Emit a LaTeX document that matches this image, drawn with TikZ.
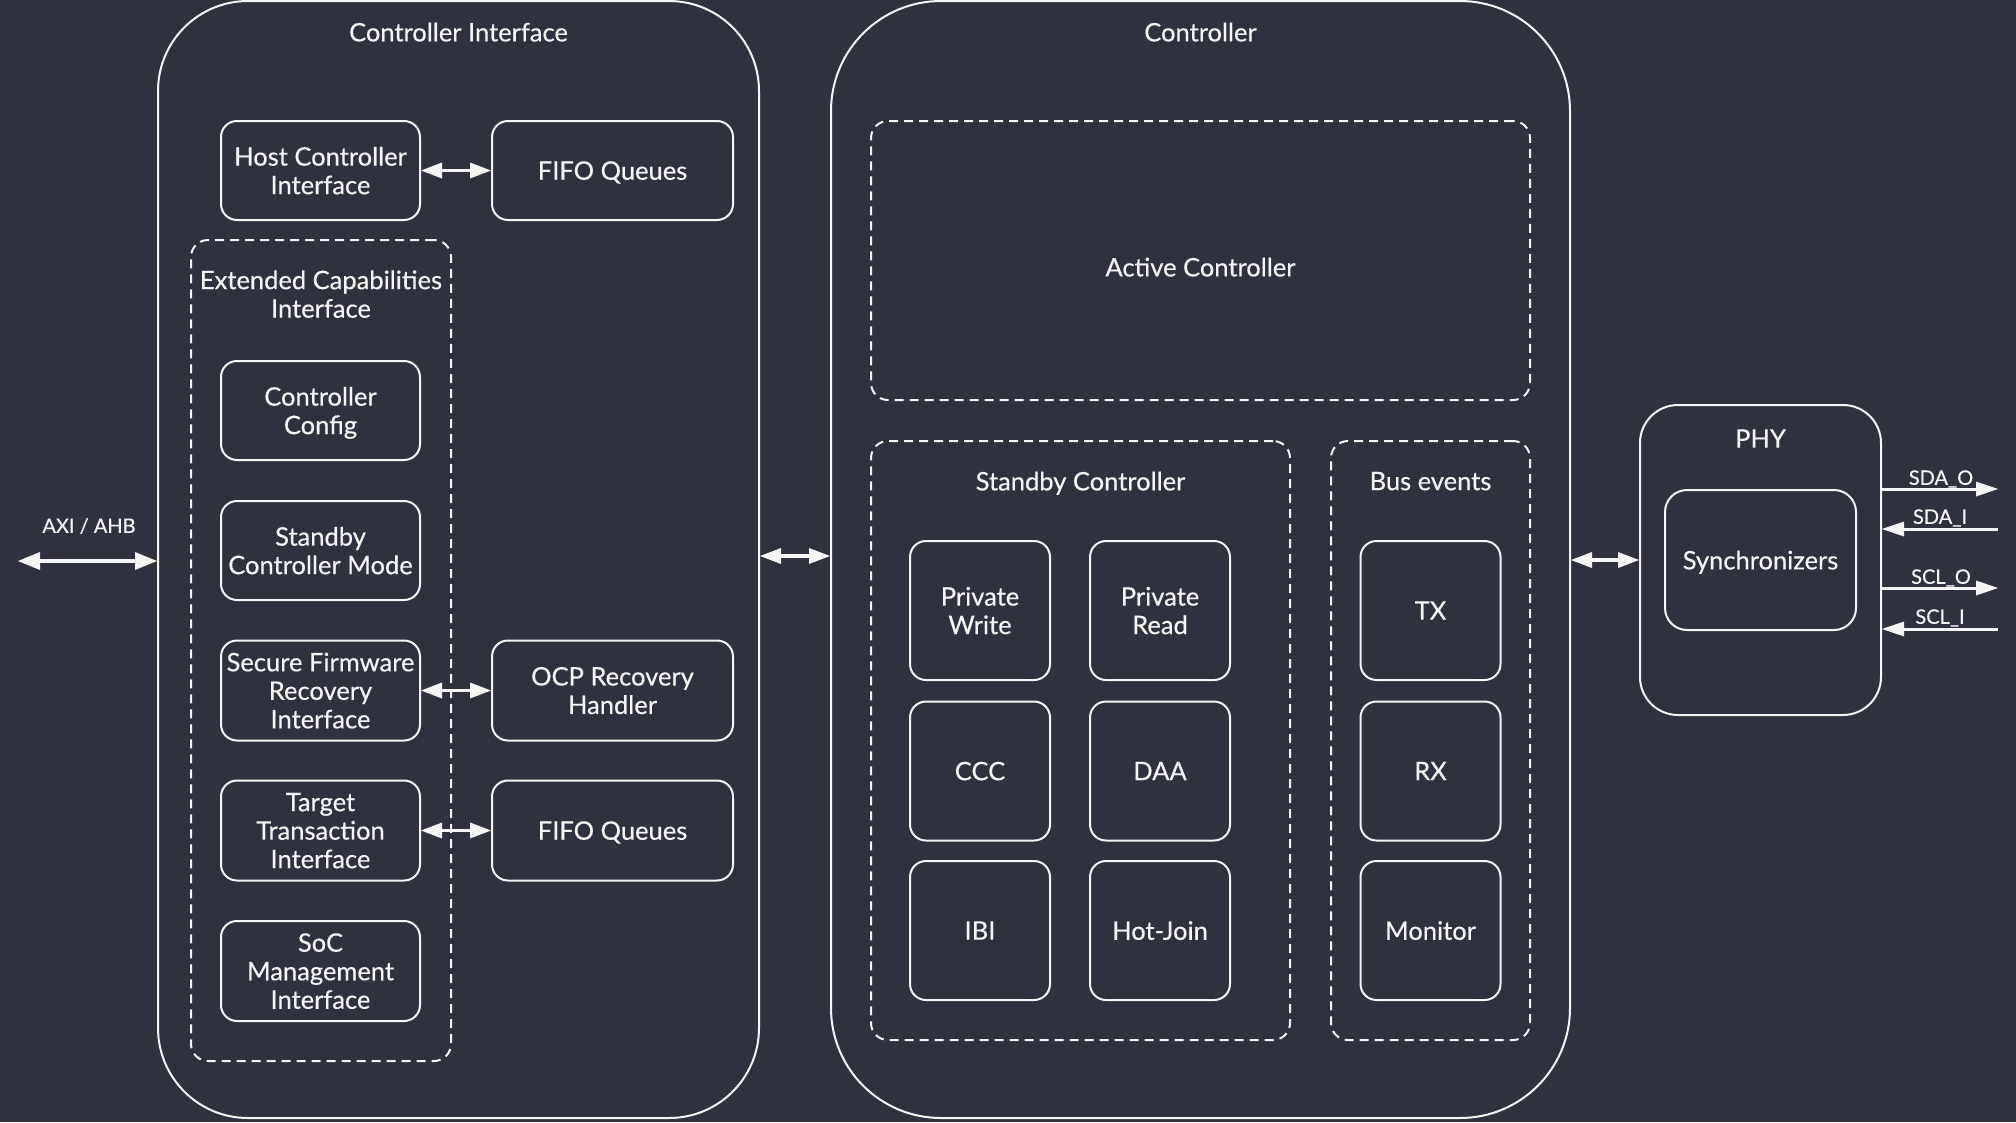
\documentclass[tikz,border=0pt]{standalone}
\usepackage{fontspec}
\setmainfont{Lato}[FakeBold=0.4]
\usetikzlibrary{arrows.meta}
\definecolor{bg}{RGB}{47,49,62}
\definecolor{fg}{RGB}{245,245,245}
\tikzset{
  txt/.style={text=fg, font=\fontsize{25.5}{28.5}\selectfont, align=center, inner sep=0pt, text depth=-5pt},
  small/.style={text=fg, font=\fontsize{20}{22}\selectfont, inner sep=0pt},
  outer/.style={draw=fg, line width=2pt, rectangle, inner sep=0pt},
  sbox/.style={draw=fg, line width=2pt, rectangle, rounded corners=16pt, inner sep=0pt, txt},
  dbox/.style={draw=fg, line width=2pt, rectangle, rounded corners=17pt, inner sep=0pt, dash pattern=on 9pt off 6pt},
  biarrow/.style={draw=fg, line width=3.5pt, {Triangle[length=21pt,width=16pt,line width=0pt]}-{Triangle[length=21pt,width=16pt,line width=0pt]}},
  bigarrow/.style={draw=fg, line width=4pt, {Triangle[length=22pt,width=18pt,line width=0pt]}-{Triangle[length=22pt,width=18pt,line width=0pt]}},
  sarrow/.style={draw=fg, line width=3pt, -{Triangle[length=22pt,width=15pt,line width=0pt]}},
}
\begin{document}
\begin{tikzpicture}[x=1pt,y=-1pt]
\fill[bg] (0,0) rectangle (2016,1122);
\useasboundingbox (0,0) rectangle (2016,1122);

% outer containers
\node[outer, rounded corners=90pt, minimum width=601, minimum height=1117] (ci) at (458.5,559.5) {};
\node[outer, rounded corners=110pt, minimum width=739, minimum height=1117] (ctrl) at (1200.5,559.5) {};
\node[outer, rounded corners=38pt, minimum width=241, minimum height=310] (phy) at (1760.5,560) {};

\node[txt] (ci-title) at (458.5,32) {Controller Interface};
\node[txt] (ctrl-title) at (1200.5,32) {Controller};
\node[txt] (phy-title) at (1760.5,438.5) {PHY};

% Controller Interface contents
\node[dbox, minimum width=260, minimum height=821] (ext) at (321,650.5) {};
\node[txt] (ext-title) at (321,294) {Extended Capabilities\\Interface};

\node[sbox, minimum width=199, minimum height=99] (hci) at (320.5,170.5) {Host Controller\\Interface};
\node[sbox, minimum width=241, minimum height=99] (fifo1) at (612.5,170.5) {FIFO Queues};
\node[sbox, minimum width=199, minimum height=99] (cc) at (320.5,410.5) {Controller\\Config};
\node[sbox, minimum width=199, minimum height=99] (scm) at (320.5,550.5) {Standby\\Controller Mode};
\node[sbox, minimum width=199, minimum height=100] (sfri) at (320.5,690.5) {Secure Firmware\\Recovery\\Interface};
\node[sbox, minimum width=241, minimum height=100] (ocp) at (612.5,690.5) {OCP Recovery\\Handler};
\node[sbox, minimum width=199, minimum height=100] (tti) at (320.5,830.5) {Target\\Transaction\\Interface};
\node[sbox, minimum width=241, minimum height=100] (fifo2) at (612.5,830.5) {FIFO Queues};
\node[sbox, minimum width=199, minimum height=100] (soc) at (320.5,971) {SoC\\Management\\Interface};

\draw[biarrow] (hci.east) -- (fifo1.west);
\draw[biarrow] (sfri.east) -- (ocp.west);
\draw[biarrow] (tti.east) -- (fifo2.west);

% Controller contents
\node[dbox, minimum width=659, minimum height=279] (active) at (1200.5,260.5) {};
\node[txt] (active-title) at (1200.5,267) {Active Controller};
\node[dbox, minimum width=419, minimum height=599] (standby) at (1080.5,740.5) {};
\node[txt] (standby-title) at (1080.5,481) {Standby Controller};
\node[dbox, minimum width=199, minimum height=599] (bus) at (1430.5,740.5) {};
\node[txt] (bus-title) at (1430.5,481) {Bus events};

\node[sbox, minimum width=140, minimum height=139] (pw) at (980,610.5) {Private\\Write};
\node[sbox, minimum width=140, minimum height=139] (pr) at (1160,610.5) {Private\\Read};
\node[sbox, minimum width=140, minimum height=139] (ccc) at (980,771) {CCC};
\node[sbox, minimum width=140, minimum height=139] (daa) at (1160,771) {DAA};
\node[sbox, minimum width=140, minimum height=139] (ibi) at (980,930.5) {IBI};
\node[sbox, minimum width=140, minimum height=139] (hj) at (1160,930.5) {Hot-Join};
\node[sbox, minimum width=140, minimum height=139] (tx) at (1430.5,610.5) {TX};
\node[sbox, minimum width=140, minimum height=139] (rx) at (1430.5,771) {RX};
\node[sbox, minimum width=140, minimum height=139] (mon) at (1430.5,930.5) {Monitor};

% PHY contents
\node[sbox, rounded corners=22pt, minimum width=191, minimum height=140] (sync) at (1760.5,560) {Synchronizers};

% main links
\coordinate (axi) at (18,561);
\draw[bigarrow] (axi) -- (axi -| ci.west);
\node[small] (axi-label) at (89,526) {AXI / AHB};

\coordinate (mid) at (0,556);
\draw[biarrow] (mid -| ci.east) -- (mid -| ctrl.west);
\draw[biarrow] (phy.west -| ctrl.east) -- (phy.west);

% signals
\coordinate (sdao) at (1998,489);
\coordinate (sdai) at (1998,529);
\coordinate (sclo) at (1998,588);
\coordinate (scli) at (1998,629);
\draw[sarrow] (sdao -| phy.east) -- (sdao);
\draw[sarrow] (sdai) -- (sdai -| phy.east);
\draw[sarrow] (sclo -| phy.east) -- (sclo);
\draw[sarrow] (scli) -- (scli -| phy.east);
\node[small] (sdao-label) at (1941,479) {SDA\_O};
\node[small] (sdai-label) at (1940,518) {SDA\_I};
\node[small] (sclo-label) at (1941,578) {SCL\_O};
\node[small] (scli-label) at (1940,618) {SCL\_I};
\end{tikzpicture}
\end{document}
